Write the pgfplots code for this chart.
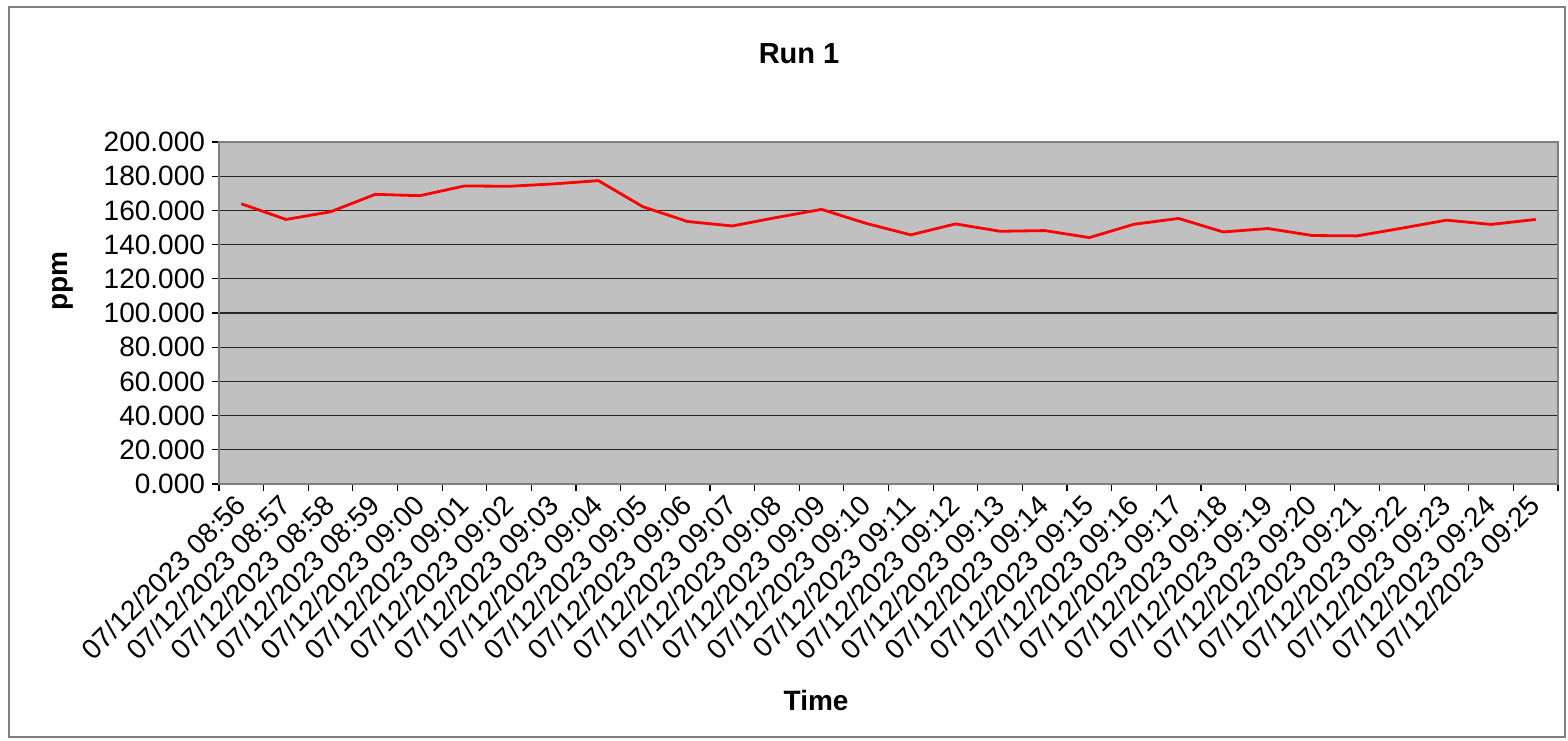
\documentclass[border=0pt]{standalone}
\usepackage{fontspec}
\setmainfont{Liberation Sans}
\usepackage{pgfplots}
\pgfplotsset{compat=1.18}

\definecolor{plotgray}{HTML}{C0C0C0}
\definecolor{framegray}{HTML}{808080}

\pgfplotstableread{
idx ppm
0  163.9
1  154.7
2  159.2
3  169.4
4  168.6
5  174.3
6  174.1
7  175.5
8  177.4
9  162.1
10 153.5
11 150.9
12 155.9
13 160.6
14 152.4
15 145.7
16 152.1
17 147.8
18 148.2
19 144.1
20 151.9
21 155.3
22 147.4
23 149.4
24 145.3
25 145.1
26 149.6
27 154.3
28 151.8
29 154.7
}\runone

\begin{document}
\begin{tikzpicture}
\useasboundingbox (-109.5pt,-128pt) rectangle (674.5pt,242pt);
\draw[framegray, line width=0.6pt] (-105pt,-126.5pt) rectangle (673pt,238.5pt);
\begin{axis}[
    at={(0pt,0pt)}, anchor=south west,
    scale only axis,
    width=669.5pt, height=171pt,
    xmin=-0.5, xmax=29.5,
    ymin=0, ymax=200,
    ytick={0,20,...,200},
    xtick={0,...,29},
    xticklabels={07/12/2023 08:56,07/12/2023 08:57,07/12/2023 08:58,07/12/2023 08:59,
        07/12/2023 09:00,07/12/2023 09:01,07/12/2023 09:02,07/12/2023 09:03,
        07/12/2023 09:04,07/12/2023 09:05,07/12/2023 09:06,07/12/2023 09:07,
        07/12/2023 09:08,07/12/2023 09:09,07/12/2023 09:10,07/12/2023 09:11,
        07/12/2023 09:12,07/12/2023 09:13,07/12/2023 09:14,07/12/2023 09:15,
        07/12/2023 09:16,07/12/2023 09:17,07/12/2023 09:18,07/12/2023 09:19,
        07/12/2023 09:20,07/12/2023 09:21,07/12/2023 09:22,07/12/2023 09:23,
        07/12/2023 09:24,07/12/2023 09:25},
    minor xtick={-0.5,0.5,...,29.5},
    major x tick style={draw=none},
    tick pos=left,
    tick align=outside,
    major tick length=3.5pt,
    minor tick length=3.5pt,
    tick style={black, line width=0.6pt},
    ymajorgrids=true,
    grid style={black!85, line width=0.6pt},
    axis line style={framegray, line width=0.8pt},
    axis background/.style={fill=plotgray},
    yticklabel style={font=\fontsize{14}{16}\selectfont},
    xticklabel style={font=\fontsize{14}{16}\selectfont, rotate=45, anchor=east, yshift=-3pt},
    /pgf/number format/.cd, fixed, zerofill, precision=3, 1000 sep={}, assume math mode=true,
    /pgfplots/.cd,
    title={\bfseries Run 1},
    title style={font=\fontsize{14.5}{17}\selectfont, at={(axis description cs:0.4332,1.222)}, anchor=center},
    xlabel={\bfseries Time},
    xlabel style={font=\fontsize{14}{16}\selectfont, at={(axis description cs:0.4459,-0.6316)}, anchor=center},
    ylabel={\bfseries ppm},
    ylabel style={font=\fontsize{14}{16}\selectfont, at={(axis description cs:-0.1165,0.5936)}, anchor=center, rotate=0},
]
\addplot[color=red, line width=1.4pt, mark=none] table[x=idx, y=ppm] {\runone};
\end{axis}
\end{tikzpicture}
\end{document}
